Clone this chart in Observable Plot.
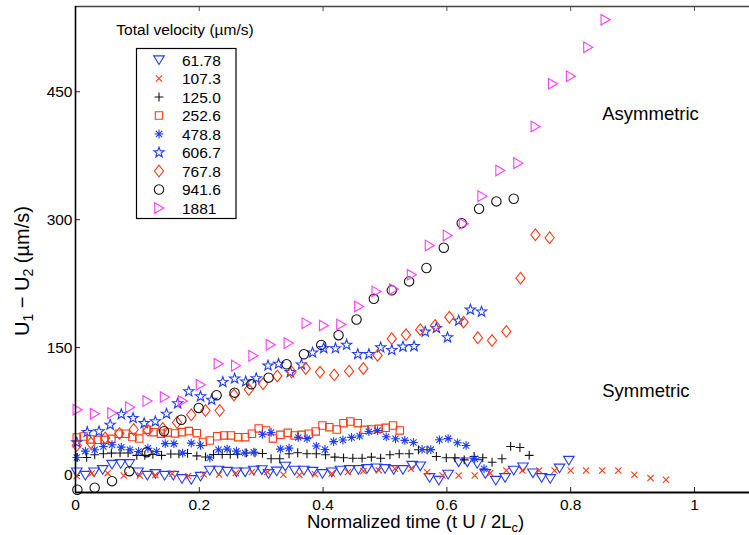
<!DOCTYPE html>
<html><head><meta charset="utf-8">
<script src="https://cdn.jsdelivr.net/npm/d3@7"></script>
<script src="https://cdn.jsdelivr.net/npm/@observablehq/plot@0.6"></script>
<style>body{margin:0;background:#fff;} svg{display:block;}</style>
</head><body><div id="chart"></div>
<script>
// ---- data: [normalized time, U1-U2 (µm/s)] per total velocity ----
const velocities = ["61.78","107.3","125.0","252.6","478.8","606.7","767.8","941.6","1881"];
const v61_78 = [[.002,3.9],[.016,0],[.030,3.9],[.044,6.7],[.059,12.9],[.073,13.7],[.087,13.7],[.101,3.9],[.116,0],[.129,2.0],[.144,0],[.158,0],[.172,-3.9],[.187,-5.0],[.202,-1.2],[.217,5.9],[.231,5.9],[.245,4.7],[.260,3.9],[.274,3.9],[.288,5.9],[.301,6.5],[.312,2.0],[.325,5.0],[.339,10.6],[.354,5.9],[.369,5.9],[.383,4.7],[.399,2.0],[.414,3.9],[.428,5.9],[.443,6.7],[.457,6.7],[.471,7.9],[.486,8.6],[.500,7.9],[.514,6.7],[.529,6.7],[.544,11.7],[.557,10.9],[.572,-2.7],[.587,-5.9],[.602,1.2],[.619,15.6],[.633,15.6],[.649,13.7],[.662,2.0],[.679,-5.9],[.694,-2.7],[.708,5.9],[.723,9.8],[.739,2.7],[.753,-2.7],[.767,-3.9],[.782,8.5],[.797,17.6]];
const v107_3 = [[.002,-0.6],[.026,2.3],[.052,2.7],[.078,0],[.104,0],[.129,0.4],[.156,2.0],[.182,-0.6],[.207,1.5],[.232,1.2],[.259,2.9],[.285,4.1],[.310,3.9],[.336,0.8],[.362,0.6],[.387,1.5],[.414,2.3],[.440,3.9],[.465,5.3],[.490,6.2],[.516,7.9],[.542,7.9],[.568,3.9],[.593,0],[.619,0],[.645,0],[.670,2.7],[.696,5.9],[.722,5.9],[.749,5.9],[.774,5.9],[.800,5.9],[.825,5.9],[.851,5.9],[.877,5.9],[.903,0.8],[.929,-3.1],[.954,-5.1]];
const v125_0 = [[.003,21.1],[.018,21.1],[.031,24.3],[.045,25.4],[.058,26.2],[.072,26.4],[.085,26.4],[.099,23.5],[.112,23.5],[.125,24.6],[.139,23.5],[.154,25.2],[.167,25.2],[.181,25.8],[.196,22.9],[.210,21.7],[.223,24.6],[.237,24.6],[.250,24.6],[.262,24.9],[.276,26.4],[.290,26.4],[.302,25.8],[.316,19.6],[.330,19.6],[.345,25.4],[.359,26.6],[.374,25.4],[.389,25.4],[.404,24.2],[.419,21.5],[.433,20.7],[.448,20.2],[.463,20.2],[.478,21.5],[.493,20.2],[.508,24.2],[.523,25.4],[.539,25.4],[.554,30.1],[.568,30.1],[.583,22.3],[.599,20.7],[.613,20.7],[.628,18.3],[.644,22.3],[.658,20.7],[.673,15.5],[.689,19.6],[.703,34.0],[.718,32.8],[.733,23.5]];
const v252_6 = [[.002,44.6],[.013,45.7],[.024,42.2],[.036,41.8],[.047,41.8],[.058,43.0],[.070,48.9],[.081,48.9],[.092,45.0],[.103,43.2],[.115,53.7],[.126,50.8],[.138,49.0],[.149,50.4],[.161,49.3],[.172,50.8],[.183,52.0],[.196,49.6],[.206,39.3],[.217,41.0],[.229,46.0],[.240,46.9],[.251,46.9],[.263,44.9],[.274,44.9],[.285,48.9],[.296,55.1],[.308,52.8],[.319,43.4],[.331,47.7],[.343,50.0],[.354,46.9],[.365,47.7],[.377,48.9],[.388,51.6],[.399,58.6],[.410,56.6],[.422,53.9],[.433,61.3],[.444,63.3],[.456,61.3],[.467,53.5],[.478,53.9],[.490,54.7],[.501,55.9],[.513,58.6],[.524,52.8]];
const v478_8 = [[.002,21.1],[.016,28.5],[.031,30.1],[.045,34.0],[.059,36.0],[.074,33.2],[.088,30.1],[.102,28.1],[.117,31.9],[.131,28.1],[.145,37.3],[.159,37.3],[.173,26.2],[.187,37.9],[.202,35.2],[.217,20.7],[.231,30.1],[.245,30.9],[.260,28.5],[.274,26.4],[.288,27.3],[.302,48.3],[.316,50.4],[.331,30.9],[.345,32.0],[.360,44.6],[.374,43.2],[.389,34.5],[.403,30.5],[.417,39.7],[.432,41.6],[.446,44.6],[.459,46.3],[.474,51.4],[.488,52.6],[.502,45.3],[.517,43.0],[.532,41.1],[.546,38.7],[.560,30.5],[.574,30.3],[.588,41.8],[.602,43.2],[.617,38.3],[.631,35.2],[.645,19.6],[.660,7.9]];
const v606_7 = [[.002,38.7],[.019,50.8],[.038,51.6],[.056,59.4],[.074,71.7],[.093,67.2],[.111,61.2],[.129,63.3],[.147,72.3],[.165,84.4],[.183,98.5],[.202,92.6],[.220,88.7],[.238,109.5],[.257,113.5],[.275,110.0],[.292,113.9],[.311,128.8],[.328,130.8],[.347,121.0],[.365,130.0],[.383,144.0],[.401,149.2],[.420,149.0],[.438,153.1],[.456,142.2],[.474,142.2],[.493,150.1],[.511,147.0],[.529,150.9],[.547,151.5],[.565,168.5],[.583,172.8],[.601,161.8],[.619,181.4],[.638,194.3],[.656,192.0]];
const v767_8 = [[.002,35.2],[.025,38.1],[.048,44.0],[.071,49.3],[.094,53.9],[.117,52.8],[.141,55.1],[.164,62.1],[.187,71.2],[.210,76.2],[.233,76.2],[.256,94.4],[.280,100.8],[.303,107.5],[.326,116.7],[.349,121.4],[.372,125.5],[.395,121.2],[.418,117.9],[.442,122.3],[.465,125.5],[.488,140.8],[.511,160.4],[.534,165.1],[.557,171.0],[.581,175.9],[.604,185.6],[.627,179.8],[.650,161.5],[.673,158.3],[.696,168.9],[.719,231.4],[.743,282.3],[.766,278.8]];
const v941_6 = [[.003,-16.8],[.031,-14.4],[.059,-6.7],[.087,5.0],[.115,27.3],[.143,51.9],[.171,65.3],[.199,79.2],[.228,94.1],[.257,97.1],[.284,107.0],[.312,114.7],[.341,130.4],[.369,142.2],[.397,153.1],[.425,164.5],[.454,182.9],[.482,207.2],[.511,217.1],[.539,227.6],[.567,243.3],[.595,267.1],[.624,295.9],[.652,312.8],[.680,321.4],[.708,324.5]];
const v1881 = [[.003,77.1],[.031,72.4],[.059,73.1],[.088,80.1],[.116,87.2],[.144,91.9],[.173,87.2],[.202,106.4],[.231,131.0],[.259,128.8],[.287,140.4],[.315,153.3],[.344,155.2],[.373,178.6],[.401,175.9],[.429,177.1],[.458,198.2],[.486,215.8],[.514,218.5],[.543,235.4],[.572,269.8],[.601,281.5],[.627,295.2],[.657,327.6],[.686,357.7],[.715,366.3],[.743,409.3],[.771,459.4],[.800,468.3],[.828,502.3],[.856,534.5]];
const seriesData = [v61_78, v107_3, v125_0, v252_6, v478_8, v606_7, v767_8, v941_6, v1881];

const xTicks = [0, 0.2, 0.4, 0.6, 0.8, 1];
const yTicks = [0, 150, 300, 450];
const xDomain = [0, 1.0889];
const yDomain = [-20, 550];
const notes = [{x: 0.851, y: 424, label: "Asymmetric"}, {x: 0.851, y: 99, label: "Symmetric"}];

// ---- styles ----
const BLUE = "#1f3cff", RED = "#ff3a14", MAG = "#ff3cff", BLK = "#111";
const symDown = {draw(c){c.moveTo(-5.3,-4.1);c.lineTo(5.3,-4.1);c.lineTo(0,4.5);c.closePath();}};
const symRight = {draw(c){c.moveTo(-4.3,-5.3);c.lineTo(4.8,0);c.lineTo(-4.3,5.3);c.closePath();}};
const symTimes = {draw(c){const r=3.1;c.moveTo(-r,-r);c.lineTo(r,r);c.moveTo(r,-r);c.lineTo(-r,r);}};
const symPlus = {draw(c){const r=4.4;c.moveTo(-r,0);c.lineTo(r,0);c.moveTo(0,-r);c.lineTo(0,r);}};
const symSquare = {draw(c){c.rect(-3.7,-3.7,7.4,7.4);}};
const symAst = {draw(c){const r=4.4,d=3.1;c.moveTo(-r,0);c.lineTo(r,0);c.moveTo(0,-r);c.lineTo(0,r);c.moveTo(-d,-d);c.lineTo(d,d);c.moveTo(d,-d);c.lineTo(-d,d);}};
const symStar = {draw(c){for(let i=0;i<10;i++){const a=-Math.PI/2+i*Math.PI/5,rr=i%2?2.2:5.4;const px=rr*Math.cos(a),py=rr*Math.sin(a);if(i===0)c.moveTo(px,py);else c.lineTo(px,py);}c.closePath();}};
const symDiamond = {draw(c){c.moveTo(0,-5.8);c.lineTo(4.6,0);c.lineTo(0,5.8);c.lineTo(-4.6,0);c.closePath();}};
const symCircle = {draw(c){c.moveTo(4.7,0);c.arc(0,0,4.7,0,2*Math.PI);}};
const symbols = [symDown, symTimes, symPlus, symSquare, symAst, symStar, symDiamond, symCircle, symRight];
const colors = [BLUE, RED, BLK, RED, BLUE, BLUE, RED, BLK, MAG];

const FONT = "'Liberation Sans', Arial, Helvetica, sans-serif";

const dotMarks = seriesData.map((d, i) => Plot.dot(d, {
  x: p => p[0], y: p => p[1], symbol: symbols[i], stroke: colors[i], fill: "none", strokeWidth: 1.1
}));

const chart = Plot.plot({
  width: 749, height: 535,
  marginLeft: 75, marginRight: 0, marginTop: 6, marginBottom: 43,
  style: {fontFamily: FONT, background: "#fff", color: "#000"},
  x: {domain: xDomain},
  y: {domain: yDomain},
  marks: [
    Plot.axisX({ticks: xTicks, tickSize: 0, tickPadding: 6, tickFormat: d => String(d), fontSize: 15.5, label: null}),
    Plot.axisY({ticks: yTicks, tickSize: 0, tickPadding: 3, tickFormat: d => String(d), fontSize: 15.5, label: null}),
    Plot.ruleX(xTicks, {insetTop: 481, stroke: "#222", strokeWidth: 1}),
    Plot.ruleX(xTicks, {insetBottom: 481, stroke: "#555", strokeWidth: 1}),
    Plot.ruleY(yTicks, {insetRight: 669, stroke: "#222", strokeWidth: 1}),
    ...dotMarks,
    Plot.text(notes, {x: "x", y: "y", text: "label", textAnchor: "start", lineAnchor: "middle", fontSize: 18.5, fill: "#000"}),
    Plot.ruleY([yDomain[1]], {stroke: "#444", strokeWidth: 1.6}),
    Plot.ruleY([yDomain[0]], {stroke: "#000", strokeWidth: 2}),
    Plot.ruleX([xDomain[0]], {stroke: "#000", strokeWidth: 1.6})
  ]
});
document.getElementById("chart").appendChild(chart);

// ---- axis labels with subscripts ----
const svg = d3.select(chart);
const xl = svg.append("text").attr("x", 307).attr("y", 528).attr("text-anchor", "start")
  .attr("font-family", FONT).attr("font-size", 18.5).attr("fill", "#000");
xl.append("tspan").text("Normalized time (t U / 2L");
xl.append("tspan").attr("font-size", 13).attr("dy", 4).text("c");
xl.append("tspan").attr("dy", -4).text(")");

const yl = svg.append("text").attr("transform", "translate(29,336) rotate(-90)").attr("text-anchor", "start")
  .attr("font-family", FONT).attr("font-size", 20).attr("fill", "#000");
yl.append("tspan").text("U");
yl.append("tspan").attr("font-size", 14).attr("dy", 4).text("1");
yl.append("tspan").attr("dy", -4).text(" \u2212 U");
yl.append("tspan").attr("font-size", 14).attr("dy", 4).text("2");
yl.append("tspan").attr("dy", -4).text(" (\u00b5m/s)");

// ---- legend ----
const lg = svg.append("g").attr("font-family", FONT).attr("text-anchor", "start");
lg.append("text").attr("x", 185).attr("y", 35).attr("text-anchor", "middle")
  .attr("font-size", 15.5).attr("fill", "#000").text("Total velocity (\u00b5m/s)");
lg.append("rect").attr("x", 136.5).attr("y", 48.5).attr("width", 99.5).attr("height", 170)
  .attr("fill", "#fff").attr("stroke", "#000").attr("stroke-width", 1.2);
velocities.forEach((v, i) => {
  const yy = 60 + i * 18.5;
  lg.append("path").attr("d", d3.symbol(symbols[i])()).attr("transform", `translate(159,${yy})`)
    .attr("fill", "none").attr("stroke", colors[i]).attr("stroke-width", 1.1);
  lg.append("text").attr("x", 182).attr("y", yy).attr("dy", "0.36em").attr("text-anchor", "start")
    .attr("font-size", 15.5).attr("fill", "#000").text(v);
});
</script></body></html>
